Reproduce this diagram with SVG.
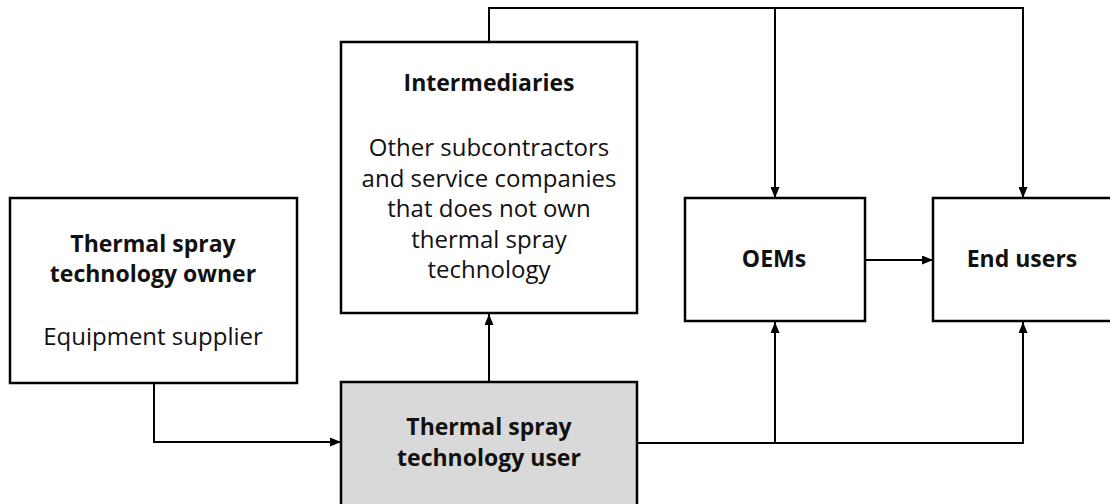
<svg xmlns="http://www.w3.org/2000/svg" width="1110" height="504" viewBox="0 0 1110 504">
<style>
.box{fill:#fff;stroke:#000;stroke-width:2.5}
.user{fill:#d9d9d9;stroke:#000;stroke-width:2.5}
.t{font-family:"Open Sans","Noto Sans",sans-serif;font-size:24px;fill:#111;text-anchor:middle}
.b{font-weight:bold;font-size:23px}
.c{fill:none;stroke:#000;stroke-width:2}
</style>
<defs>
<marker id="ah" markerWidth="11" markerHeight="9" refX="11" refY="4.5" orient="auto" markerUnits="userSpaceOnUse">
<path d="M0,0 L11,4.5 L0,9 Z" fill="#000"/>
</marker>
</defs>
<rect width="1110" height="504" fill="#fff"/>
<g id="connectors">
<path class="c" d="M154,383 V442 H341" marker-end="url(#ah)"/>
<path class="c" d="M489,382 V314" marker-end="url(#ah)"/>
<path class="c" d="M489,42 V8 H1023 V198" marker-end="url(#ah)"/>
<path class="c" d="M775,8 V198" marker-end="url(#ah)"/>
<path class="c" d="M865,260 H933" marker-end="url(#ah)"/>
<path class="c" d="M637,443 H1023 V322" marker-end="url(#ah)"/>
<path class="c" d="M775,443 V322" marker-end="url(#ah)"/>
</g>
<g id="owner">
<rect class="box" x="10" y="198" width="287" height="185"/>
<text class="t b" x="153" y="252">Thermal spray</text>
<text class="t b" x="153" y="282">technology owner</text>
<text class="t" x="153" y="345">Equipment supplier</text>
</g>
<g id="intermediaries">
<rect class="box" x="341" y="42" width="296" height="271"/>
<text class="t b" x="489" y="91">Intermediaries</text>
<text class="t" x="489" y="156">Other subcontractors</text>
<text class="t" x="489" y="187">and service companies</text>
<text class="t" x="489" y="217">that does not own</text>
<text class="t" x="489" y="248">thermal spray</text>
<text class="t" x="489" y="278">technology</text>
</g>
<g id="user">
<rect class="user" x="341" y="382" width="296" height="130"/>
<text class="t b" x="489" y="435">Thermal spray</text>
<text class="t b" x="489" y="466">technology user</text>
</g>
<g id="oems">
<rect class="box" x="685" y="198" width="180" height="123"/>
<text class="t b" x="774" y="267">OEMs</text>
</g>
<g id="endusers">
<rect class="box" x="933" y="198" width="190" height="123"/>
<text class="t b" x="1022" y="267">End users</text>
</g>
</svg>
